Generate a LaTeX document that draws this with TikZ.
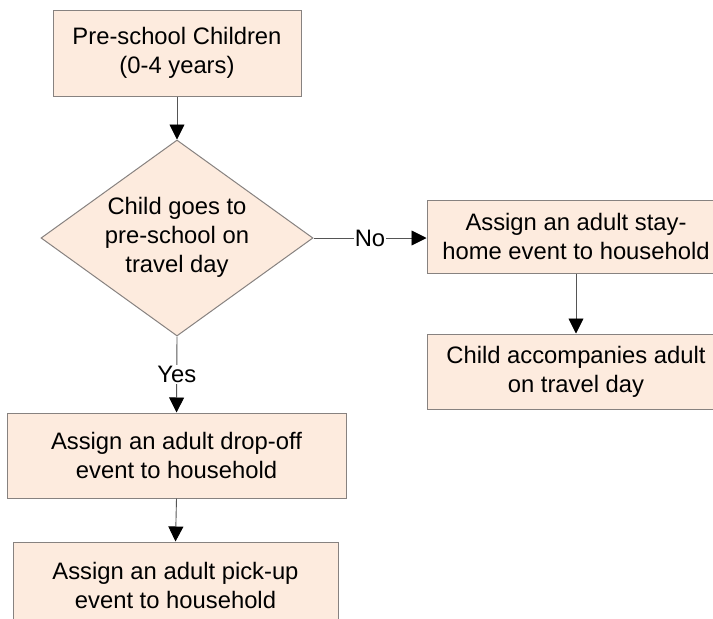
\documentclass[tikz,border=0pt]{standalone}
\usepackage{fontspec}
\setmainfont{Liberation Sans}
\usetikzlibrary{arrows.meta,shapes.geometric}
\definecolor{boxfill}{RGB}{253,235,222}
\definecolor{boxline}{RGB}{135,130,128}
\definecolor{arrowline}{RGB}{85,85,85}
\tikzset{
  procbox/.style={draw=boxline,fill=boxfill,line width=1pt,inner sep=0pt,align=center,font=\fontsize{23.8}{29}\selectfont},
  decision/.style={diamond,draw=boxline,fill=boxfill,line width=1pt,inner sep=0pt,aspect=1.388,minimum width=272pt,minimum height=196pt},
  txt/.style={align=center,inner sep=0pt,font=\fontsize{23.8}{29}\selectfont},
  flow/.style={draw=arrowline,line width=0.9pt,-{Triangle[length=15pt,width=15pt,color=black]}},
  lbl/.style={fill=white,inner sep=1pt,font=\fontsize{23.8}{29}\selectfont}
}
\begin{document}
\begin{tikzpicture}[x=1pt,y=-1pt]
\clip (0,0) rectangle (713,619);
\fill[white] (0,0) rectangle (713,619);
\node[procbox,minimum width=248pt,minimum height=86pt] (top) at (177,53) {Pre-school Children\\(0-4 years)};
\node[decision] (dec) at (177,238) {};
\node[txt] (dectext) at (177,237) {Child goes to\\pre-school on\\travel day};
\node[procbox,minimum width=298pt,minimum height=73pt] (stay) at (576,236.5) {Assign an adult stay-\\home event to household};
\node[procbox,minimum width=298pt,minimum height=75pt] (acc) at (576,371.5) {Child accompanies adult\\on travel day};
\node[procbox,minimum width=339pt,minimum height=85pt] (drop) at (176.5,455.5) {Assign an adult drop-off\\event to household};
\node[procbox,minimum width=325pt,minimum height=86pt] (pick) at (175.5,585) {Assign an adult pick-up\\event to household};
\draw[flow] (top.south) -- (dec.north);
\draw[flow] (dec.east) -- node[lbl] (no) {No} (stay.west |- dec.east);
\draw[flow] (stay.south) -- (acc.north);
\draw[flow] (dec.south) -- node[lbl] (yes) {Yes} (drop.north);
\draw[flow] (drop.south) -- (pick.north);
\end{tikzpicture}
\end{document}
